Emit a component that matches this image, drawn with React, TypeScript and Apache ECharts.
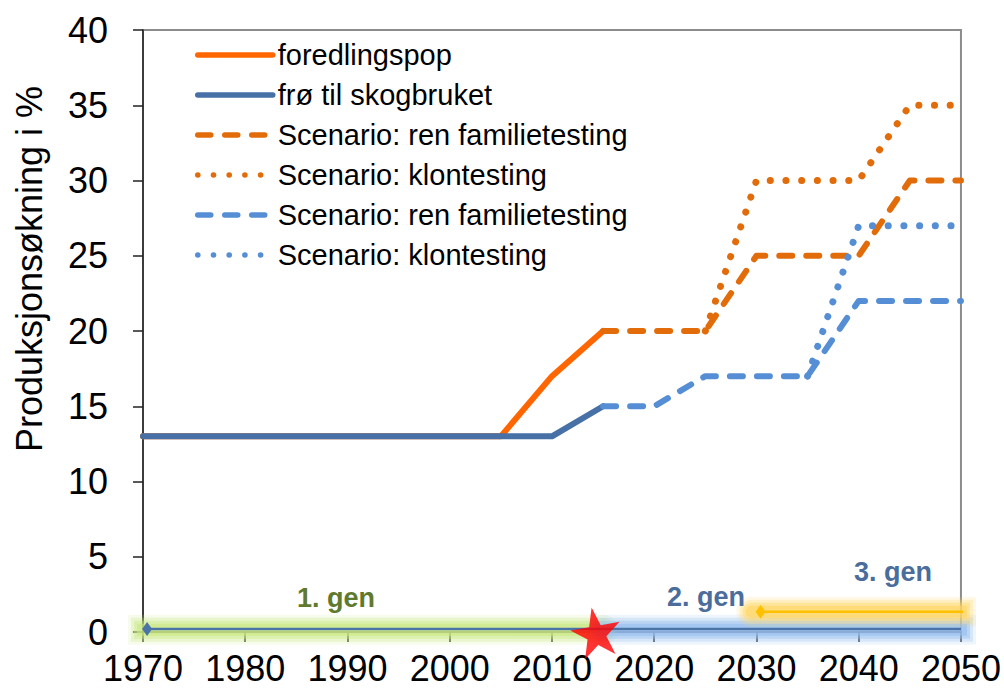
import React, { useEffect, useRef } from "react";
import * as echarts from "echarts";

// ---- data ----
const foredlingX = [1970, 2005, 2010, 2015];
const foredlingY = [13, 13, 17, 20];
const froX = [1970, 2010, 2015];
const froY = [13, 13, 15];
const orangeFamX = [2015, 2025, 2030, 2040, 2045, 2050];
const orangeFamY = [20, 20, 25, 25, 30, 30];
const orangeKlonX = [2025, 2030, 2040, 2045, 2050];
const orangeKlonY = [20, 30, 30, 35, 35];
const blueFamX = [2015, 2020, 2025, 2035, 2040, 2050];
const blueFamY = [15, 15, 17, 17, 22, 22];
const blueKlonX = [2035, 2040, 2050];
const blueKlonY = [17, 27, 27];

const seriesIds = ["foredling", "fro", "orangeFam", "orangeKlon", "blueFam", "blueKlon"];
const legendLabels = [
  "foredlingspop",
  "frø til skogbruket",
  "Scenario: ren familietesting",
  "Scenario: klontesting",
  "Scenario: ren familietesting",
  "Scenario: klontesting",
];

// timeline (generations)
const gen1Span = [1968.9, 2015];
const gen2Span = [2015, 2051];
const gen3Span = [2030.4, 2050.3];
const gen3Glow = [2029.5, 2051];
const gen3Level = 1.35;
const timelineSpan = [1970.4, 2050];
const timelineLevel = 0.2;
const bandLevel = 0.15;
const starPoint = [2014.3, 0];
const genLabels = ["1. gen", "2. gen", "3. gen"];

const yTicks = { min: 0, max: 40, interval: 5 };
const xTicks = { min: 1970, max: 2050, interval: 10 };

const FONT = "'Liberation Sans', Arial, sans-serif";

const zip = (xs: number[], ys: number[]) => xs.map((x, i) => [x, ys[i]]);

const STAR =
  "path://M50,0 L61.2,34.5 L97.6,34.5 L68.2,55.9 L79.4,90.5 L50,69.1 L20.6,90.5 L31.8,55.9 L2.4,34.5 L38.8,34.5 Z";

function glowBands(name: string, span: number[], level: number, rgb: string) {
  const layers = [
    { w: 30, a: 0.16 },
    { w: 24, a: 0.28 },
    { w: 18, a: 0.42 },
    { w: 12, a: 0.6 },
  ];
  return layers.map((l, i) => ({
    type: "line",
    name: name + i,
    data: [
      [span[0], level],
      [span[1], level],
    ],
    symbol: "none",
    clip: false,
    silent: true,
    z: 1,
    lineStyle: { color: `rgba(${rgb},${l.a})`, width: l.w, cap: "round" },
  }));
}

function startMarkedLine(name: string, span: number[], level: number, color: string) {
  return {
    type: "line",
    name,
    data: [
      { value: [span[0], level], symbol: "diamond", symbolSize: [10, 14] },
      { value: [span[1], level], symbol: "none" },
    ],
    showSymbol: true,
    clip: false,
    silent: true,
    z: 2,
    itemStyle: { color },
    lineStyle: { color, width: 2.5 },
  };
}

function buildOption() {
  const lineSeries = (
    id: string,
    xs: number[],
    ys: number[],
    color: string,
    type: any,
    width: number,
    z: number
  ) => ({
    type: "line",
    name: id,
    data: zip(xs, ys),
    symbol: "none",
    z,
    lineStyle: { color, width, type, cap: "round", join: "round" },
    itemStyle: { color },
  });

  const dashed = [13, 14];
  const dotted = [0.1, 15.6];

  return {
    animation: false,
    grid: {
      left: 143,
      right: 41,
      top: 30,
      bottom: 59,
      show: true,
      borderColor: "#8c8c8c",
      borderWidth: 2,
      backgroundColor: "transparent",
    },
    xAxis: {
      type: "value",
      min: xTicks.min,
      max: xTicks.max,
      interval: xTicks.interval,
      axisLine: { show: true, onZero: false, lineStyle: { color: "#222", width: 1.5 } },
      axisTick: { show: true, length: 10, lineStyle: { color: "#222", width: 1.5 } },
      splitLine: { show: false },
      axisLabel: {
        color: "#000",
        fontSize: 36,
        fontFamily: FONT,
        margin: 18,
        showMinLabel: true,
        showMaxLabel: true,
        formatter: (v: number) => String(v),
      },
    },
    yAxis: {
      type: "value",
      min: yTicks.min,
      max: yTicks.max,
      interval: yTicks.interval,
      axisLine: { show: true, lineStyle: { color: "#222", width: 1.5 } },
      axisTick: { show: true, length: 10, lineStyle: { color: "#222", width: 1.5 } },
      splitLine: { show: false },
      axisLabel: { color: "#000", fontSize: 36, fontFamily: FONT, margin: 35 },
    },
    legend: {
      data: seriesIds,
      orient: "vertical",
      left: 195,
      top: 40,
      padding: 0,
      itemWidth: 75,
      itemHeight: 30,
      itemGap: 10,
      itemStyle: { opacity: 0, borderWidth: 0 },
      lineStyle: { width: 5.5, cap: "round" },
      formatter: (name: string) => legendLabels[seriesIds.indexOf(name)],
      textStyle: { fontSize: 29, fontFamily: FONT, color: "#000", lineHeight: 30, padding: [0, 0, 0, 0] },
      selectedMode: false,
    },
    graphic: [
      {
        type: "text",
        x: 29,
        y: 269,
        rotation: Math.PI / 2,
        style: {
          text: "Produksjonsøkning i %",
          fontSize: 36,
          fontFamily: FONT,
          fill: "#000",
          align: "center",
          verticalAlign: "middle",
        },
      },
      {
        type: "text",
        x: 336,
        y: 598,
        style: {
          text: genLabels[0],
          fontSize: 27,
          fontWeight: "bold",
          fontFamily: FONT,
          fill: "#5f7a2e",
          align: "center",
          verticalAlign: "middle",
        },
        z: 10,
      },
      {
        type: "text",
        x: 706,
        y: 597,
        style: {
          text: genLabels[1],
          fontSize: 27,
          fontWeight: "bold",
          fontFamily: FONT,
          fill: "#4a6d9c",
          align: "center",
          verticalAlign: "middle",
        },
        z: 10,
      },
      {
        type: "text",
        x: 893,
        y: 572,
        style: {
          text: genLabels[2],
          fontSize: 27,
          fontWeight: "bold",
          fontFamily: FONT,
          fill: "#4a6d9c",
          align: "center",
          verticalAlign: "middle",
        },
        z: 10,
      },
    ],
    series: [
      ...glowBands("gen1band", gen1Span, bandLevel, "200,232,130"),
      ...glowBands("gen2band", gen2Span, bandLevel, "150,190,238"),
      ...glowBands("gen3band", gen3Glow, gen3Level, "255,214,100"),
      startMarkedLine("timeline", timelineSpan, timelineLevel, "#4a74a8"),
      startMarkedLine("gen3line", gen3Span, gen3Level, "#ffc000"),
      lineSeries(seriesIds[0], foredlingX, foredlingY, "#ff6600", "solid", 6, 3),
      lineSeries(seriesIds[1], froX, froY, "#4670a6", "solid", 6, 3),
      lineSeries(seriesIds[2], orangeFamX, orangeFamY, "#e36c0a", dashed, 6, 3),
      lineSeries(seriesIds[3], orangeKlonX, orangeKlonY, "#e36c0a", dotted, 7, 3),
      lineSeries(seriesIds[4], blueFamX, blueFamY, "#558ed5", dashed, 6, 3),
      lineSeries(seriesIds[5], blueKlonX, blueKlonY, "#558ed5", dotted, 7, 3),
      {
        type: "scatter",
        name: "star",
        data: [starPoint],
        symbol: STAR,
        symbolSize: [50, 50],
        symbolRotate: 10,
        clip: false,
        silent: true,
        z: 5,
        itemStyle: { color: "#ff0000" },
      },
    ],
  };
}

export default function App() {
  const ref = useRef<HTMLDivElement>(null);
  useEffect(() => {
    if (!ref.current) return;
    const chart = echarts.init(ref.current, null, { renderer: "svg" });
    chart.setOption(buildOption() as any);
    return () => chart.dispose();
  }, []);
  return (
    <div
      ref={ref}
      style={{ position: "fixed", left: 0, top: 0, width: 1004, height: 691, background: "#fff" }}
    />
  );
}
